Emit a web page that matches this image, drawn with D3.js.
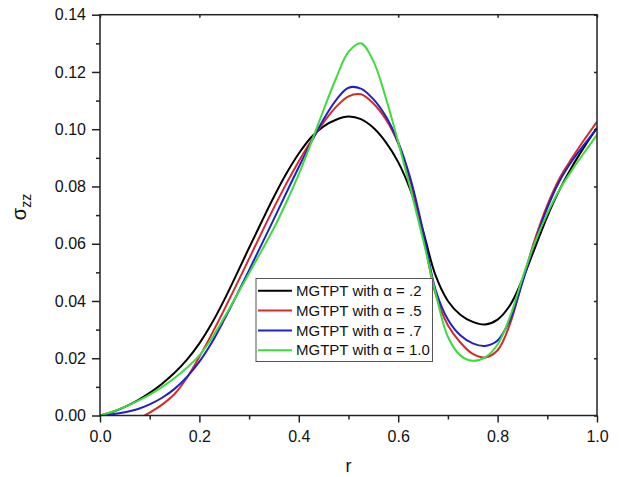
<!DOCTYPE html>
<html>
<head>
<meta charset="utf-8">
<script src="https://cdn.jsdelivr.net/npm/d3@7"></script>
<style>
  body { margin: 0; background: #fff; }
  svg { font-family: "Liberation Sans", Arial, sans-serif; }
</style>
</head>
<body>
<svg id="chart" width="619" height="477"></svg>
<script>
// r grid shared by all series
var rValues = [0, 0.025, 0.05, 0.075, 0.1, 0.125, 0.15, 0.175, 0.2, 0.225, 0.25, 0.275, 0.3, 0.325, 0.35,
  0.375, 0.4, 0.425, 0.45, 0.475, 0.5, 0.525, 0.55, 0.575, 0.6, 0.625, 0.65, 0.675, 0.7, 0.725, 0.75,
  0.775, 0.8, 0.825, 0.85, 0.875, 0.9, 0.925, 0.95, 0.975, 1.0];

var alpha02 = [0, 0.0012, 0.003, 0.0052, 0.0079, 0.0111, 0.0149, 0.0195, 0.0252, 0.0322, 0.0404, 0.0494, 0.0586, 0.0676,
  0.0764, 0.0845, 0.0915, 0.0972, 0.101, 0.1033, 0.1044,
  0.1035, 0.1005, 0.0955, 0.0885, 0.0785, 0.0645, 0.049, 0.040, 0.0352, 0.0327, 0.0318, 0.0335, 0.0385, 0.0475, 0.0585,
  0.0695, 0.079, 0.087, 0.094, 0.1005];

var alpha05 = [-0.0062, -0.0048, -0.0032, -0.0013, 0.001, 0.0038, 0.0075, 0.0132, 0.0205, 0.0285, 0.037, 0.0458, 0.0548,
  0.0638, 0.0726, 0.081, 0.0888, 0.096, 0.1024, 0.1078, 0.1115,
  0.1122, 0.109, 0.1035, 0.095, 0.0815, 0.063, 0.0425, 0.0315, 0.0255, 0.0215, 0.0203, 0.0228, 0.032, 0.047, 0.0615,
  0.0735, 0.083, 0.090, 0.0965, 0.1026];

var alpha07 = [0, 0.0004, 0.0011, 0.0022, 0.0039, 0.0062, 0.0093, 0.0135, 0.0188, 0.0255, 0.0335, 0.042, 0.0508, 0.0597,
  0.0687, 0.0778, 0.0868, 0.0955, 0.1035, 0.1102, 0.1145,
  0.1142, 0.1105, 0.1045, 0.0955, 0.0825, 0.0645, 0.044, 0.0335, 0.028, 0.0252, 0.0243, 0.0262, 0.0335, 0.0465, 0.0605,
  0.0725, 0.082, 0.089, 0.0948, 0.1003];

var alpha10 = [0, 0.0013, 0.003, 0.005, 0.0073, 0.01, 0.0131, 0.0167, 0.021, 0.027, 0.0342, 0.0419, 0.0497, 0.0575,
  0.0655, 0.0745, 0.0843, 0.0953, 0.1068, 0.1178, 0.127,
  0.130, 0.1238, 0.111, 0.0955, 0.079, 0.0615, 0.043, 0.0275, 0.021, 0.0191, 0.0203, 0.0248, 0.0345, 0.048, 0.0605,
  0.0705, 0.079, 0.0858, 0.092, 0.098];

var seriesNames = ["MGTPT with \u03b1 = .2", "MGTPT with \u03b1 = .5", "MGTPT with \u03b1 = .7", "MGTPT with \u03b1 = 1.0"];
var seriesColors = ["#000000", "#d42a2a", "#2020c8", "#3ddc3d"];

var xTicks = [0, 0.2, 0.4, 0.6, 0.8, 1.0];
var xMinorTicks = [0.1, 0.3, 0.5, 0.7, 0.9];
var yTicks = [0, 0.02, 0.04, 0.06, 0.08, 0.10, 0.12, 0.14];
var yMinorTicks = [0.01, 0.03, 0.05, 0.07, 0.09, 0.11, 0.13];

renderChart();

function renderChart(){
  var svg = d3.select('#chart');
  var x = d3.scaleLinear().domain([0, 1]).range([100, 597]);
  var y = d3.scaleLinear().domain([0, 0.14]).range([415.5, 14.7]);

  var allSeries = [alpha02, alpha05, alpha07, alpha10];

  svg.append('defs').append('clipPath').attr('id', 'plotclip')
     .append('rect')
     .attr('x', x(0)).attr('y', y(0.14))
     .attr('width', x(1) - x(0)).attr('height', y(0) - y(0.14));

  var line = d3.line()
               .x((d, i) => x(rValues[i]))
               .y(d => y(d))
               .curve(d3.curveCatmullRom.alpha(0.5));

  svg.append('g').attr('clip-path', 'url(#plotclip)')
     .selectAll('path')
     .data(allSeries)
     .enter()
     .append('path')
     .attr('d', d => line(d))
     .attr('fill', 'none')
     .attr('stroke', (d, i) => seriesColors[i])
     .attr('stroke-width', 2);

  // axes
  var axisColor = '#222';
  function styleAxis(g){
    g.select('.domain').remove();
    g.selectAll('line').attr('stroke', axisColor).attr('stroke-width', 1.5);
    g.selectAll('text').attr('fill', '#111').style('font-size', '16px')
     .style('font-family', '"Liberation Sans", Arial, sans-serif');
  }

  svg.append('g').attr('transform', 'translate(0,' + y(0) + ')')
     .call(d3.axisBottom(x).tickValues(xTicks).tickSize(7).tickPadding(8).tickFormat(d3.format('.1f')))
     .call(styleAxis);
  svg.append('g').attr('transform', 'translate(0,' + y(0) + ')')
     .call(d3.axisBottom(x).tickValues(xMinorTicks).tickSize(4).tickFormat(''))
     .call(styleAxis);
  svg.append('g').attr('transform', 'translate(' + x(0) + ',0)')
     .call(d3.axisLeft(y).tickValues(yTicks).tickSize(8).tickPadding(6).tickFormat(d3.format('.2f')))
     .call(styleAxis);
  svg.append('g').attr('transform', 'translate(' + x(0) + ',0)')
     .call(d3.axisLeft(y).tickValues(yMinorTicks).tickSize(4).tickFormat(''))
     .call(styleAxis);
  svg.append('g').attr('transform', 'translate(0,' + y(0.14) + ')')
     .call(d3.axisTop(x).tickValues(xTicks).tickSize(-3).tickFormat(''))
     .call(styleAxis);
  svg.append('g').attr('transform', 'translate(' + x(1) + ',0)')
     .call(d3.axisRight(y).tickValues(yTicks).tickSize(-3).tickFormat(''))
     .call(styleAxis);

  // frame
  svg.append('rect')
     .attr('x', x(0)).attr('y', y(0.14))
     .attr('width', x(1) - x(0)).attr('height', y(0) - y(0.14))
     .attr('fill', 'none').attr('stroke', axisColor).attr('stroke-width', 1.5);

  // axis titles
  svg.append('text')
     .attr('x', (x(0) + x(1)) / 2).attr('y', 472)
     .attr('text-anchor', 'middle')
     .style('font-size', '18px').attr('fill', '#111')
     .text('r');

  var yTitle = svg.append('text')
     .attr('transform', 'translate(26,207) rotate(-90)')
     .attr('text-anchor', 'middle')
     .style('font-size', '20px').attr('fill', '#111');
  yTitle.append('tspan').text('\u03c3');
  yTitle.append('tspan').attr('dy', 5).style('font-size', '14px').text('zz');

  // legend
  var legend = svg.append('g').attr('transform', 'translate(256,278.5)');
  legend.append('rect')
        .attr('width', 176.5).attr('height', 83)
        .attr('fill', '#fff').attr('stroke', '#555').attr('stroke-width', 1);
  var rows = legend.selectAll('g.row')
                   .data(seriesNames)
                   .enter()
                   .append('g')
                   .attr('class', 'row')
                   .attr('transform', (d, i) => 'translate(0,' + (12.3 + i * 19.8) + ')');
  rows.append('line')
      .attr('x1', 2).attr('x2', 36)
      .attr('stroke', (d, i) => seriesColors[i])
      .attr('stroke-width', 2);
  rows.append('text')
      .attr('x', 40).attr('dy', '0.35em')
      .style('font-size', '15px').attr('fill', '#111')
      .text(d => d);
}
</script>
</body>
</html>
